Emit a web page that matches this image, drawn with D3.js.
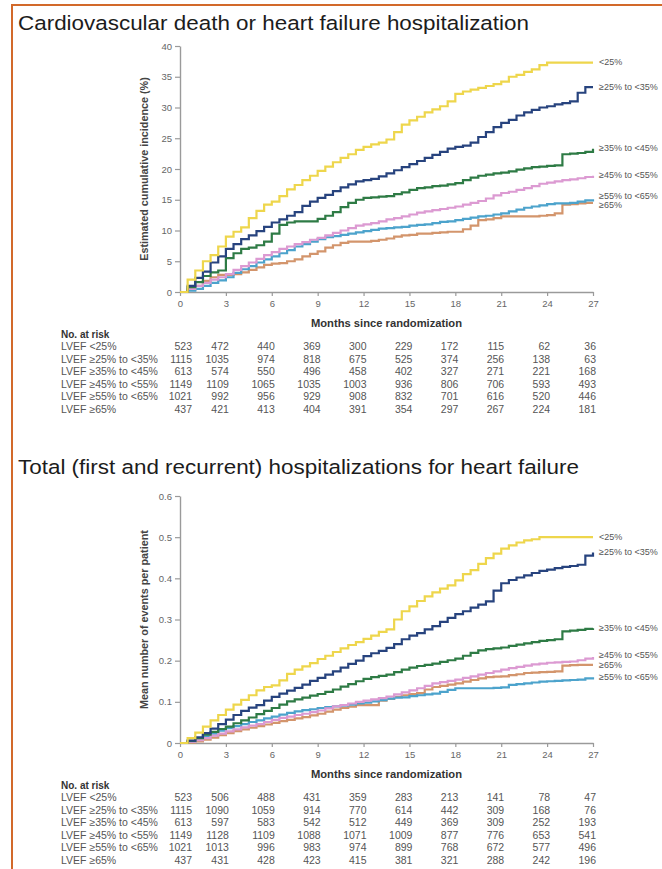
<!DOCTYPE html>
<html><head><meta charset="utf-8">
<script src="https://cdn.jsdelivr.net/npm/d3@7"></script>
<style>
html,body{margin:0;padding:0;background:#fff;}
svg{display:block;font-family:"Liberation Sans",Arial,Helvetica,sans-serif;}
</style></head><body>
<svg id="chart" width="662" height="869"></svg>
<script>
// Follow-up grid (months since randomization)
const months = [0,0.5,1,1.5,2,2.5,3,3.5,4,4.5,5,5.5,6,6.5,7,7.5,8,8.5,9,9.5,10,10.5,11,11.5,12,12.5,13,13.5,14,14.5,15,15.5,16,16.5,17,17.5,18,18.5,19,19.5,20,20.5,21,21.5,22,22.5,23,23.5,24,24.5,25,25.5,26,26.5,27];
const riskMonths = [0,3,6,9,12,15,18,21,24,27];

const groupLabels = ["<25%","≥25% to <35%","≥35% to <45%","≥45% to <55%","≥55% to <65%","≥65%"];
const rowLabels = ["LVEF <25%","LVEF ≥25% to <35%","LVEF ≥35% to <45%","LVEF ≥45% to <55%","LVEF ≥55% to <65%","LVEF ≥65%"];
const groupColors = ["#eed64c","#27437e","#2e7b45","#dc9ad2","#4ca3cc","#d3956c"];

// Cardiovascular death or HF hospitalization, cumulative incidence (%)
const cvLt25   = [0,2,3.5,5,6,7.4,9,9.8,10.5,12,13.2,14.2,14.7,15.6,16.7,17.4,18.2,18.9,19.7,20.4,21.1,21.8,22.4,23.1,23.6,24,24.3,24.8,26,27.2,27.9,28.5,29.2,29.7,30.2,31,32.2,32.6,32.9,33.2,33.5,33.8,34.2,35,35.3,35.8,36.2,36.9,37.3,37.3,37.3,37.3,37.3,37.3,37.3];
const cv25to35 = [0,1,2.3,3.3,4.8,5.8,7,7.8,8.6,9.2,9.9,10.6,11.3,11.8,12.4,13,14,14.7,15.3,15.8,16.4,17,17.5,18,18.2,18.4,18.8,19.3,19.8,20.3,20.8,21.3,21.8,22.3,22.8,23.3,23.6,23.8,24.3,25.2,26,26.8,27.5,28,28.7,29.2,29.6,30,30.2,30.5,30.7,31,32.4,33.3,33.3];
const cv35to45 = [0,0.8,1.6,2.6,3.2,3.5,5.5,6.3,7,7.2,7.6,8.2,9.5,10.9,11.3,11.5,11.5,11.5,11.9,12.4,13,13.8,14.5,15,15.3,15.4,15.5,15.6,15.9,16.2,16.6,16.9,17,17.2,17.3,17.5,17.7,18.2,18.6,18.9,19.1,19.3,19.4,19.6,19.9,20.1,20.3,20.4,20.5,20.6,22.4,22.5,22.6,22.8,23.3];
const cv45to55 = [0,0.5,1,1.5,2,2.4,2.9,3.6,4.2,4.8,5.4,6,6.5,7,7.4,7.8,8.1,8.5,8.8,9.2,9.6,10,10.4,10.8,11,11.2,11.5,11.8,12,12.3,12.6,12.9,13.1,13.3,13.5,13.7,13.9,14.2,14.5,14.8,15.2,15.7,16.1,16.3,16.6,16.9,17.2,17.6,17.8,18,18.2,18.3,18.5,18.7,18.9];
const cv55to65 = [0,0.2,0.5,1,1.5,1.9,2.4,3.1,3.7,4.2,4.8,5.3,5.8,6.3,6.8,7.4,7.8,8.2,8.6,8.9,9.1,9.3,9.5,9.7,9.9,10.1,10.3,10.4,10.5,10.6,10.8,10.9,11,11.2,11.4,11.5,11.7,11.9,12.1,12.3,12.4,12.6,12.8,13.1,13.4,13.7,13.9,14.1,14.3,14.4,14.4,14.5,14.7,14.9,15.1];
const cvGe65   = [0,0.4,1,1.8,2.4,2.8,2.8,2.9,3.2,3.6,4,4.4,4.6,4.7,5,5.3,5.8,6.2,6.6,7.2,7.6,8,8.2,8.2,8.2,8.3,8.5,8.7,9,9.2,9.3,9.5,9.5,9.6,9.7,9.8,9.8,10.2,10.8,11.7,11.8,12,12.3,12.3,12.3,12.3,12.3,12.4,12.5,12.8,14.2,14.3,14.4,14.5,14.5];

// Total HF hospitalizations, mean number of events per patient
const hfLt25   = [0,0.012,0.025,0.04,0.055,0.068,0.081,0.093,0.105,0.116,0.128,0.136,0.14,0.152,0.168,0.178,0.186,0.194,0.204,0.212,0.221,0.23,0.238,0.245,0.253,0.261,0.27,0.276,0.3,0.32,0.332,0.345,0.356,0.366,0.375,0.383,0.395,0.41,0.42,0.435,0.449,0.46,0.472,0.48,0.487,0.492,0.495,0.5,0.5,0.5,0.5,0.5,0.5,0.5,0.5];
const hf25to35 = [0,0.006,0.014,0.024,0.035,0.046,0.057,0.068,0.078,0.086,0.092,0.103,0.112,0.12,0.127,0.134,0.142,0.151,0.158,0.166,0.174,0.183,0.192,0.2,0.211,0.218,0.224,0.231,0.24,0.252,0.261,0.267,0.276,0.284,0.294,0.304,0.313,0.32,0.329,0.336,0.344,0.37,0.388,0.396,0.402,0.407,0.413,0.418,0.421,0.425,0.428,0.43,0.433,0.455,0.463];
const hf35to45 = [0,0.005,0.012,0.02,0.027,0.034,0.04,0.048,0.055,0.062,0.07,0.078,0.085,0.093,0.101,0.106,0.11,0.115,0.119,0.124,0.13,0.137,0.143,0.15,0.156,0.16,0.163,0.166,0.172,0.178,0.183,0.187,0.19,0.193,0.197,0.201,0.205,0.212,0.219,0.225,0.228,0.23,0.232,0.236,0.239,0.242,0.245,0.248,0.25,0.252,0.271,0.273,0.275,0.277,0.279];
const hf45to55 = [0,0.003,0.007,0.012,0.018,0.023,0.028,0.033,0.038,0.042,0.046,0.051,0.056,0.061,0.064,0.068,0.071,0.075,0.079,0.084,0.089,0.092,0.096,0.1,0.103,0.106,0.109,0.113,0.118,0.123,0.128,0.133,0.139,0.145,0.148,0.151,0.154,0.158,0.162,0.166,0.17,0.174,0.178,0.182,0.185,0.188,0.191,0.193,0.195,0.196,0.197,0.198,0.201,0.205,0.209];
const hf55to65 = [0,0.004,0.01,0.016,0.023,0.03,0.036,0.041,0.046,0.051,0.055,0.06,0.064,0.069,0.073,0.077,0.08,0.082,0.085,0.087,0.089,0.091,0.093,0.096,0.098,0.101,0.104,0.108,0.11,0.111,0.114,0.116,0.118,0.12,0.124,0.129,0.133,0.133,0.133,0.133,0.133,0.134,0.135,0.141,0.143,0.145,0.147,0.149,0.15,0.151,0.152,0.153,0.154,0.157,0.16];
const hfGe65   = [0,0.001,0.004,0.008,0.013,0.019,0.024,0.029,0.033,0.037,0.041,0.045,0.049,0.053,0.056,0.06,0.063,0.067,0.071,0.076,0.081,0.085,0.088,0.092,0.092,0.092,0.103,0.107,0.112,0.116,0.119,0.121,0.13,0.136,0.139,0.142,0.145,0.149,0.153,0.157,0.16,0.161,0.162,0.165,0.167,0.17,0.171,0.172,0.173,0.174,0.188,0.189,0.19,0.19,0.19];

// Numbers at risk
const cvRiskLt25   = [523,472,440,369,300,229,172,115,62,36];
const cvRisk25to35 = [1115,1035,974,818,675,525,374,256,138,63];
const cvRisk35to45 = [613,574,550,496,458,402,327,271,221,168];
const cvRisk45to55 = [1149,1109,1065,1035,1003,936,806,706,593,493];
const cvRisk55to65 = [1021,992,956,929,908,832,701,616,520,446];
const cvRiskGe65   = [437,421,413,404,391,354,297,267,224,181];

const hfRiskLt25   = [523,506,488,431,359,283,213,141,78,47];
const hfRisk25to35 = [1115,1090,1059,914,770,614,442,309,168,76];
const hfRisk35to45 = [613,597,583,542,512,449,369,309,252,193];
const hfRisk45to55 = [1149,1128,1109,1088,1071,1009,877,776,653,541];
const hfRisk55to65 = [1021,1013,996,983,974,899,768,672,577,496];
const hfRiskGe65   = [437,431,428,423,415,381,321,288,242,196];

const cvTicks = [0,5,10,15,20,25,30,35,40];
const hfTicks = [0,0.1,0.2,0.3,0.4,0.5,0.6];

const svg = d3.select("#chart");
svg.append("rect").attr("width",662).attr("height",869).attr("fill","#fff");

// frame accent
svg.append("line").attr("x1",12).attr("x2",12).attr("y1",4).attr("y2",869)
  .attr("stroke","#d2692a").attr("stroke-width",2);
svg.append("line").attr("x1",11).attr("x2",662).attr("y1",5).attr("y2",5)
  .attr("stroke","#d2692a").attr("stroke-width",2);

const x = d3.scaleLinear().domain([0,27]).range([180,593]);

function drawPanel(p){
  const g = svg.append("g");
  g.append("text").attr("x",18).attr("y",p.titleY)
    .attr("font-size",20.5).attr("fill","#1c1c1c")
    .attr("textLength",p.titleWidth).attr("lengthAdjust","spacingAndGlyphs")
    .text(p.title);

  const y = d3.scaleLinear().domain(p.yDomain).range([p.yBottom,p.yTop]);

  const yAxis = g.append("g").attr("transform",`translate(${x(0)},0)`)
    .call(d3.axisLeft(y).tickValues(p.yTicks).tickFormat(p.yFmt).tickSize(5).tickPadding(3).tickSizeOuter(0));
  const xAxis = g.append("g").attr("transform",`translate(0,${y(0)})`)
    .call(d3.axisBottom(x).tickValues(riskMonths).tickSize(4).tickPadding(4).tickSizeOuter(0));
  [yAxis,xAxis].forEach(a=>{
    a.select(".domain").attr("stroke","#9a9a9a").attr("stroke-width",1.4);
    a.selectAll(".tick line").attr("stroke","#9a9a9a").attr("stroke-width",1.2);
    a.selectAll(".tick text").attr("fill","#666").attr("font-size",9.5)
      .attr("font-family","'Liberation Sans',Arial,sans-serif");
  });

  g.append("text")
    .attr("transform",`translate(145,${(p.yTop+p.yBottom)/2}) rotate(-90)`)
    .attr("text-anchor","middle").attr("dominant-baseline","middle")
    .attr("font-size",10.8).attr("font-weight","bold").attr("fill","#444")
    .text(p.yLabel);

  const line = d3.line().x(d=>x(d[0])).y(d=>y(d[1])).curve(d3.curveStepAfter);
  const order = [5,4,3,2,1,0];
  order.forEach(i=>{
    const pts = months.map((m,k)=>[m,p.series[i][k]]);
    g.append("path").attr("d",line(pts)).attr("fill","none")
      .attr("stroke",groupColors[i]).attr("stroke-width",2.2)
      .attr("stroke-linejoin","miter");
  });

  // end-of-curve group labels, nudged apart where they collide
  const gapMin = 9.5;
  const lab = p.series.map((s,i)=>({i, y:y(s[s.length-1])}));
  lab.sort((a,b)=>a.y-b.y);
  for(let it=0;it<20;it++){
    for(let k=1;k<lab.length;k++){
      const gap = lab[k].y-lab[k-1].y;
      if(gap<gapMin){const d=(gapMin-gap)/2; lab[k].y+=d; lab[k-1].y-=d;}
    }
  }
  lab.forEach(l=>{
    g.append("text").attr("x",599).attr("y",l.y).attr("dominant-baseline","middle")
      .attr("font-size",9).attr("fill","#555").text(groupLabels[l.i]);
  });

  // axis title and numbers-at-risk table
  const base = y(0);
  g.append("text").attr("x",(x(0)+x(27))/2).attr("y",base+35)
    .attr("text-anchor","middle").attr("font-size",11.2).attr("font-weight","bold")
    .attr("fill","#333").text("Months since randomization");
  g.append("text").attr("x",61).attr("y",base+46)
    .attr("font-size",10).attr("font-weight","bold").attr("fill","#333").text("No. at risk");
  p.risk.forEach((row,r)=>{
    const ry = base+58+r*12.6;
    g.append("text").attr("x",61).attr("y",ry).attr("font-size",10.5).attr("fill","#555").text(rowLabels[r]);
    row.forEach((v,c)=>{
      const t = riskMonths[c];
      g.append("text").attr("x", t===0 ? x(t)+12 : x(t)+3).attr("y",ry)
        .attr("text-anchor","end").attr("font-size",10.5).attr("fill","#555").text(v);
    });
  });
}

drawPanel({
  title:"Cardiovascular death or heart failure hospitalization", titleY:30, titleWidth:511,
  yTop:46, yBottom:292, yDomain:[0,40], yTicks:cvTicks, yFmt:d3.format("d"),
  yLabel:"Estimated cumulative incidence (%)",
  series:[cvLt25,cv25to35,cv35to45,cv45to55,cv55to65,cvGe65],
  risk:[cvRiskLt25,cvRisk25to35,cvRisk35to45,cvRisk45to55,cvRisk55to65,cvRiskGe65]
});
drawPanel({
  title:"Total (first and recurrent) hospitalizations for heart failure", titleY:474, titleWidth:561,
  yTop:496, yBottom:743, yDomain:[0,0.6], yTicks:hfTicks, yFmt:d=>d===0?"0":d3.format(".1f")(d),
  yLabel:"Mean number of events per patient",
  series:[hfLt25,hf25to35,hf35to45,hf45to55,hf55to65,hfGe65],
  risk:[hfRiskLt25,hfRisk25to35,hfRisk35to45,hfRisk45to55,hfRisk55to65,hfRiskGe65]
});
</script>
</body></html>
